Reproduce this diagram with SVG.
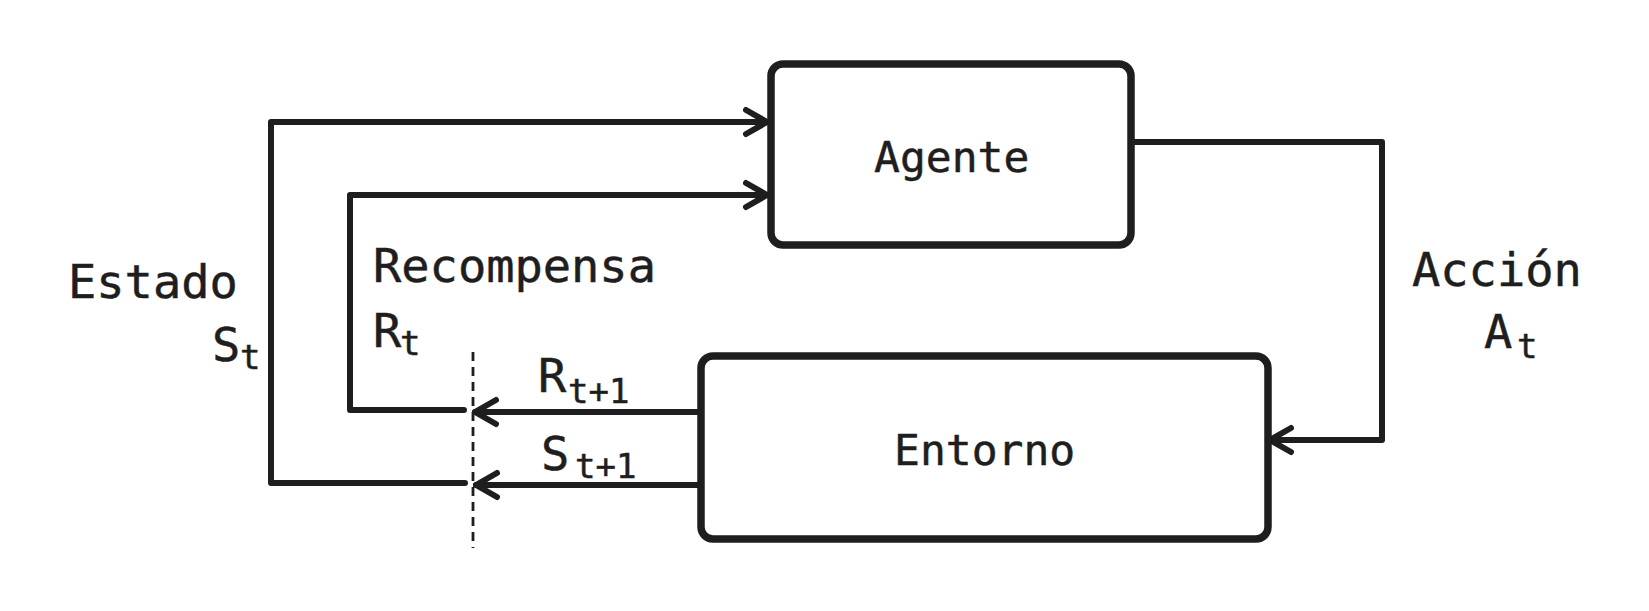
<svg xmlns="http://www.w3.org/2000/svg" width="1649" height="611" viewBox="0 0 1649 611">
<style>
.box{fill:#fff;stroke:#1e1e1e;stroke-width:7.5}
.conn{fill:none;stroke:#1e1e1e;stroke-width:6;stroke-linecap:round;stroke-linejoin:round}
.dash{fill:none;stroke:#1e1e1e;stroke-width:2.8;stroke-dasharray:9 6}
text{font-family:"DejaVu Sans Mono","Liberation Mono",monospace;fill:#1e1e1e;stroke:#1e1e1e;stroke-width:0.5}
.node{font-size:43px}
.lbl{font-size:47px}
.sub{font-size:34px}
</style>
<defs>
<marker id="arr" markerUnits="userSpaceOnUse" markerWidth="40" markerHeight="40" viewBox="-30 -20 40 40" refX="0" refY="0" orient="auto" overflow="visible">
<path d="M-21,-12 L0,0 L-21,12" fill="none" stroke="#1e1e1e" stroke-width="6" stroke-linecap="round" stroke-linejoin="round"/>
</marker>
</defs>
<rect width="1649" height="611" fill="#fff"/>
<g id="connectors">
<path class="conn" d="M465,483 L271,483 L271,122 L767,122" marker-end="url(#arr)"/>
<path class="conn" d="M464,410 L350,410 L350,195 L767,195" marker-end="url(#arr)"/>
<path class="conn" d="M1131,142 L1382,142 L1382,440 L1270,440" marker-end="url(#arr)"/>
<path class="conn" d="M701,412 L475,412" marker-end="url(#arr)"/>
<path class="conn" d="M701,485 L476,485" marker-end="url(#arr)"/>
<path class="dash" d="M473,352 L473,548"/>
</g>
<g id="agente">
<rect class="box" x="771" y="64" width="360" height="181" rx="12"/>
<text class="node" x="874" y="172">Agente</text>
</g>
<g id="entorno">
<rect class="box" x="701" y="356" width="567" height="183" rx="12"/>
<text class="node" x="894" y="465">Entorno</text>
</g>
<g id="labels">
<text class="lbl" x="1412" y="286">Acción</text>
<text class="lbl" x="1484" y="348">A</text><text class="sub" x="1517" y="358">t</text>
<text class="lbl" x="68" y="298">Estado</text>
<text class="lbl" x="212" y="361">S</text><text class="sub" x="240" y="369">t</text>
<text class="lbl" x="373" y="282">Recompensa</text>
<text class="lbl" x="373" y="347">R</text><text class="sub" x="400" y="355">t</text>
<text class="lbl" x="538" y="392">R</text><text class="sub" x="568" y="403">t+1</text>
<text class="lbl" x="541" y="470">S</text><text class="sub" x="575" y="478">t+1</text>
</g>
</svg>
